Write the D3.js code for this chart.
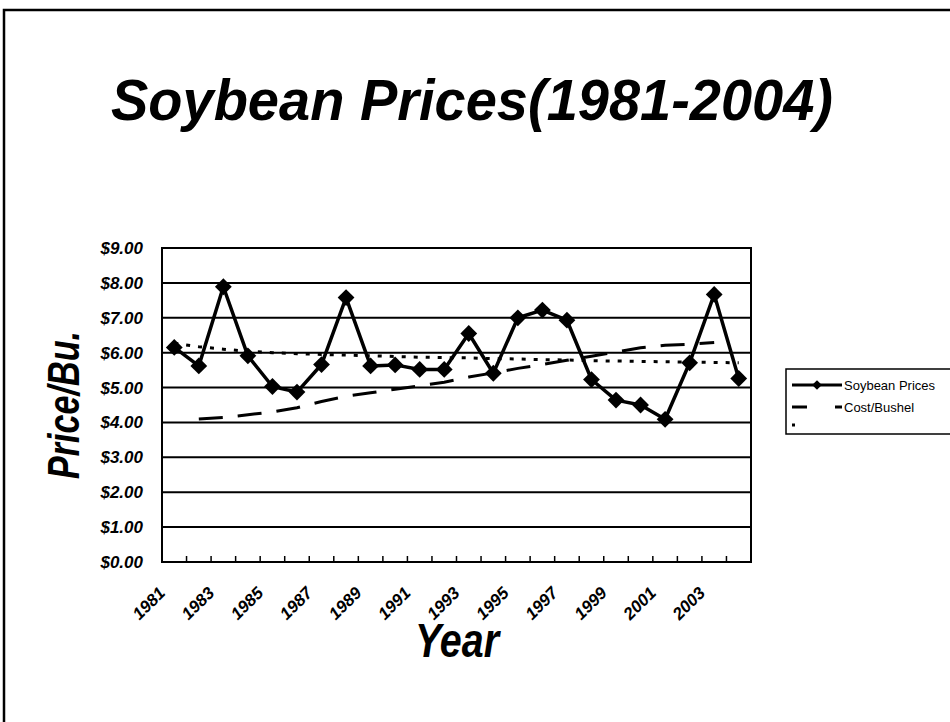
<!DOCTYPE html>
<meta charset="utf-8">
<script src="https://cdn.jsdelivr.net/npm/d3@7"></script>
<style>
  body { margin: 0; background: #fff; }
  text { font-family: "Liberation Sans", Arial, sans-serif; }
</style>
<svg id="chart" width="950" height="722"></svg>
<script>

// data
var years = [1981,1982,1983,1984,1985,1986,1987,1988,1989,1990,1991,1992,
             1993,1994,1995,1996,1997,1998,1999,2000,2001,2002,2003,2004];
var soyPrices = [6.15,5.62,7.89,5.91,5.03,4.87,5.66,7.58,5.62,5.65,5.52,5.52,
                 6.55,5.41,7.00,7.22,6.93,5.23,4.64,4.50,4.09,5.71,7.67,5.26];
var costPerBushel = [null,4.10,4.14,4.22,4.30,4.42,4.60,4.75,4.85,4.95,5.05,5.15,
                     5.30,5.42,5.55,5.66,5.78,5.90,6.02,6.14,6.21,6.24,6.29,null];
var trend = [6.27,6.17,6.10,6.04,6.00,5.97,5.95,5.93,5.91,5.89,5.87,5.86,
             5.85,5.83,5.82,5.80,5.79,5.77,5.76,5.75,5.74,5.73,5.72,5.71];
var labelYears = [1981,1983,1985,1987,1989,1991,1993,1995,1997,1999,2001,2003];
var priceTicks = [0,1,2,3,4,5,6,7,8,9];
var legendNames = ["Soybean Prices", "Cost/Bushel", ""];

var svg = d3.select("#chart");

var plot = {left: 162, right: 751, top: 248, bottom: 562};

var x = d3.scaleBand()
    .domain(years)
    .range([plot.left, plot.right])
    .padding(0);

var y = d3.scaleLinear()
    .domain([0, 9])
    .range([plot.bottom, plot.top]);

var cx = function(yr) { return x(yr) + x.bandwidth() / 2; };

// outer frame
svg.append("rect")
    .attr("x", 4).attr("y", 10)
    .attr("width", 960).attr("height", 730)
    .attr("fill", "none")
    .attr("stroke", "#000")
    .attr("stroke-width", 2.5);

// title
svg.append("text")
    .attr("x", 111).attr("y", 120)
    .attr("textLength", 722)
    .attr("lengthAdjust", "spacingAndGlyphs")
    .style("font-size", "58px")
    .style("font-weight", "bold")
    .style("font-style", "italic")
    .text("Soybean Prices(1981-2004)");

// gridlines
svg.append("g")
  .selectAll("line")
  .data(priceTicks)
  .enter()
  .append("line")
    .attr("x1", plot.left).attr("x2", plot.right)
    .attr("y1", function(d){ return y(d) })
    .attr("y2", function(d){ return y(d) })
    .attr("stroke", "#000")
    .attr("stroke-width", 2);

// plot border
svg.append("rect")
    .attr("x", plot.left).attr("y", plot.top)
    .attr("width", plot.right - plot.left)
    .attr("height", plot.bottom - plot.top)
    .attr("fill", "none")
    .attr("stroke", "#000")
    .attr("stroke-width", 2);

// y axis labels
var yAxis = svg.append("g")
    .attr("transform", "translate(" + plot.left + ",0)")
    .call(d3.axisLeft(y).tickValues(priceTicks).tickSize(0).tickPadding(19).tickFormat(d3.format("$.2f")));
yAxis.select(".domain").remove();
yAxis.selectAll("text")
    .attr("fill", "#000")
    .style("font-size", "17px")
    .style("font-weight", "bold")
    .style("font-style", "italic");

// x ticks at category boundaries, pointing inward
svg.append("g")
  .selectAll("line")
  .data(years.slice(1))
  .enter()
  .append("line")
    .attr("x1", function(d){ return x(d) })
    .attr("x2", function(d){ return x(d) })
    .attr("y1", plot.bottom)
    .attr("y2", plot.bottom - 6)
    .attr("stroke", "#000")
    .attr("stroke-width", 1.5);

// x labels, rotated
svg.append("g")
  .selectAll("text")
  .data(labelYears)
  .enter()
  .append("text")
    .attr("transform", function(d){ return "translate(" + (cx(d) - 8) + "," + (plot.bottom + 32) + ") rotate(-45)" })
    .attr("text-anchor", "end")
    .style("font-size", "17px")
    .style("font-weight", "bold")
    .style("font-style", "italic")
    .text(function(d){ return d });

// axis titles
svg.append("text")
    .attr("x", 415).attr("y", 657)
    .attr("textLength", 84)
    .attr("lengthAdjust", "spacingAndGlyphs")
    .style("font-size", "48px")
    .style("font-weight", "bold")
    .style("font-style", "italic")
    .text("Year");

svg.append("text")
    .attr("transform", "translate(79,405) rotate(-90)")
    .attr("text-anchor", "middle")
    .attr("textLength", 148)
    .attr("lengthAdjust", "spacingAndGlyphs")
    .style("font-size", "44px")
    .style("font-weight", "bold")
    .style("font-style", "italic")
    .text("Price/Bu.");

// series
var line = d3.line()
    .defined(function(d){ return d.v != null })
    .x(function(d){ return cx(d.yr) })
    .y(function(d){ return y(d.v) });

function pairs(vals) {
  return years.map(function(yr, i){ return {yr: yr, v: vals[i]} });
}

svg.append("path")
    .attr("d", line(pairs(costPerBushel)))
    .attr("fill", "none")
    .attr("stroke", "#000")
    .attr("stroke-width", 3)
    .style("stroke-dasharray", "24,15");

svg.append("path")
    .attr("d", line(pairs(trend)))
    .attr("fill", "none")
    .attr("stroke", "#000")
    .attr("stroke-width", 3)
    .style("stroke-dasharray", "4,8");

svg.append("path")
    .attr("d", line(pairs(soyPrices)))
    .attr("fill", "none")
    .attr("stroke", "#000")
    .attr("stroke-width", 3.5)
    .attr("stroke-linejoin", "round");

var diamond = d3.symbol().type(d3.symbolDiamond2).size(180);
svg.append("g")
  .selectAll("path")
  .data(pairs(soyPrices))
  .enter()
  .append("path")
    .attr("transform", function(d){ return "translate(" + cx(d.yr) + "," + y(d.v) + ")" })
    .attr("d", diamond)
    .attr("fill", "#000");

// legend
var legend = svg.append("g");
legend.append("rect")
    .attr("x", 786).attr("y", 369)
    .attr("width", 180).attr("height", 65)
    .attr("fill", "#fff")
    .attr("stroke", "#000")
    .attr("stroke-width", 1.5);

var legY = [385, 407, 425];
var legDash = [null, "15,28", "3,100"];
legend.selectAll("line")
  .data(legendNames)
  .enter()
  .append("line")
    .attr("x1", 792).attr("x2", 842)
    .attr("y1", function(d, i){ return legY[i] })
    .attr("y2", function(d, i){ return legY[i] })
    .attr("stroke", "#000")
    .attr("stroke-width", 3)
    .style("stroke-dasharray", function(d, i){ return legDash[i] });

legend.append("path")
    .attr("transform", "translate(817," + legY[0] + ")")
    .attr("d", d3.symbol().type(d3.symbolDiamond2).size(60))
    .attr("fill", "#000");

legend.selectAll("text")
  .data(legendNames)
  .enter()
  .append("text")
    .attr("x", 844)
    .attr("y", function(d, i){ return legY[i] })
    .attr("dy", "0.35em")
    .style("font-size", "13px")
    .text(function(d){ return d });
</script>
